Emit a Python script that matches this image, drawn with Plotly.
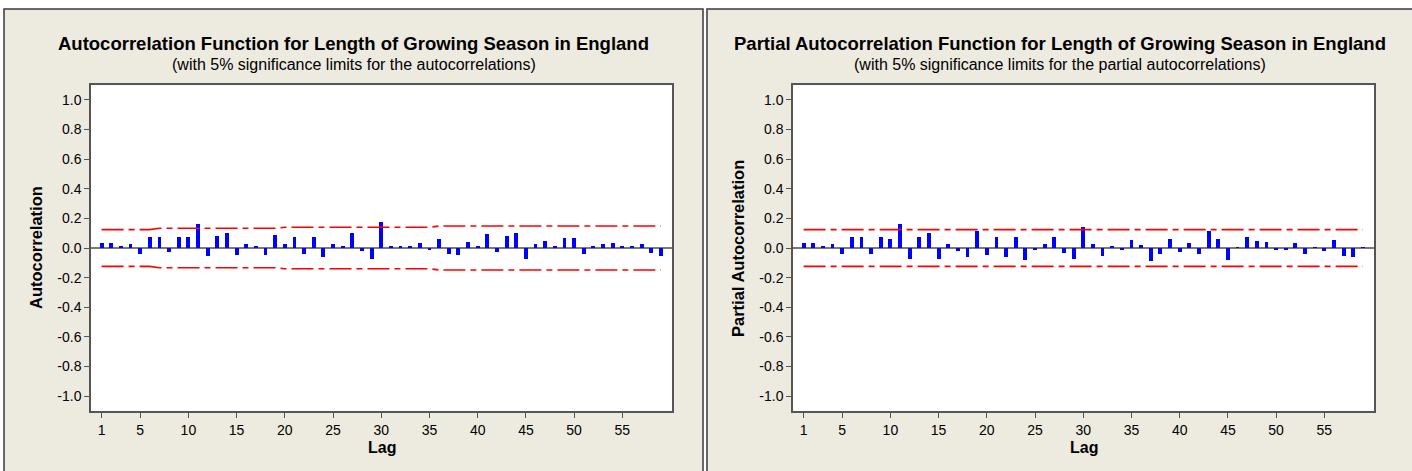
import plotly.graph_objects as go

W, H = 1412, 471

lags = list(range(1, 60))

acf = [0.034, 0.034, 0.011, 0.027, -0.039, 0.071, 0.071, -0.027, 0.071, 0.071,
       0.160, -0.055, 0.084, 0.098, -0.046, 0.027, 0.016, -0.046, 0.091, 0.027,
       0.075, -0.039, 0.075, -0.062, 0.027, 0.007, 0.100, -0.018, -0.071, 0.176,
       0.011, 0.007, 0.007, 0.034, -0.014, 0.059, -0.039, -0.048, 0.041, 0.011,
       0.094, -0.030, 0.084, 0.100, -0.072, 0.025, 0.050, 0.009, 0.068, 0.068,
       -0.041, 0.016, 0.025, 0.032, 0.009, 0.016, 0.025, -0.032, -0.052]

pacf = [0.034, 0.034, 0.011, 0.027, -0.041, 0.075, 0.071, -0.041, 0.071, 0.062,
        0.162, -0.071, 0.071, 0.103, -0.071, 0.027, -0.018, -0.062, 0.112, -0.048,
        0.075, -0.062, 0.071, -0.080, -0.014, 0.027, 0.071, -0.032, -0.071, 0.144,
        0.027, -0.055, 0.007, -0.014, 0.053, 0.018, -0.089, -0.039, 0.062, -0.030,
        0.034, -0.039, 0.116, 0.062, -0.080, 0.005, 0.071, 0.045, 0.043, -0.014,
        -0.014, 0.034, -0.039, 0.005, -0.018, 0.053, -0.055, -0.062, 0.005]

acf_limit = [0.124, 0.124, 0.124, 0.124, 0.124, 0.124, 0.133, 0.133, 0.133, 0.133,
             0.133, 0.133, 0.133, 0.133, 0.133, 0.133, 0.133, 0.133, 0.133, 0.140,
             0.140, 0.140, 0.140, 0.140, 0.140, 0.140, 0.140, 0.140, 0.140, 0.140,
             0.140, 0.140, 0.140, 0.140, 0.140, 0.148, 0.148, 0.148, 0.148, 0.148,
             0.148, 0.148, 0.148, 0.148, 0.148, 0.148, 0.148, 0.148, 0.148, 0.148,
             0.148, 0.148, 0.148, 0.148, 0.148, 0.148, 0.148, 0.148, 0.148]

pacf_limit = [0.124] * 59

x_tickvals = [1, 5, 10, 15, 20, 25, 30, 35, 40, 45, 50, 55]
y_tickvals = [1.0, 0.8, 0.6, 0.4, 0.2, 0.0, -0.2, -0.4, -0.6, -0.8, -1.0]
y_ticktext = ["1.0", "0.8", "0.6", "0.4", "0.2", "0.0", "-0.2", "-0.4", "-0.6", "-0.8", "-1.0"]

titles = ["Autocorrelation Function for Length of Growing Season in England",
          "Partial Autocorrelation Function for Length of Growing Season in England"]
subtitles = ["(with 5% significance limits for the autocorrelations)",
             "(with 5% significance limits for the partial autocorrelations)"]
ytitles = ["Autocorrelation", "Partial Autocorrelation"]

FONT = "Liberation Sans, Arial, sans-serif"
BEIGE = "#EDEAE0"
FRAME = "#555555"


def px(x):
    return x / W


def py(y):
    return 1 - y / H


fig = go.Figure()

plot_left = [91, 793]
plot_right = [672, 1374]
plot_top, plot_bottom = 85, 411
panel_x = [(4, 703), (707, 1413)]

series = [(acf, acf_limit), (pacf, pacf_limit)]

shapes = []
annotations = []
for i in range(2):
    xa = "x" if i == 0 else "x2"
    ya = "y" if i == 0 else "y2"
    vals, lim = series[i]
    fig.add_trace(go.Bar(x=lags, y=vals, width=0.4, marker=dict(color="#0000FF", line=dict(width=0)),
                         xaxis=xa, yaxis=ya, showlegend=False))
    fig.add_trace(go.Scatter(x=lags, y=lim, mode="lines",
                             line=dict(color="#FF0000", width=1.6, dash="22px,5px,6px,5px"),
                             xaxis=xa, yaxis=ya, showlegend=False))
    fig.add_trace(go.Scatter(x=lags, y=[-v for v in lim], mode="lines",
                             line=dict(color="#FF0000", width=1.6, dash="22px,5px,6px,5px"),
                             xaxis=xa, yaxis=ya, showlegend=False))

    x0, x1 = panel_x[i]
    shapes.append(dict(type="rect", xref="paper", yref="paper", layer="below",
                       x0=px(x0), x1=px(x1), y0=py(475), y1=py(9),
                       fillcolor=BEIGE, line=dict(color="#3A3A3A", width=1.5)))
    shapes.append(dict(type="rect", xref="paper", yref="paper", layer="below",
                       x0=px(plot_left[i]), x1=px(plot_right[i]), y0=py(plot_bottom), y1=py(plot_top),
                       fillcolor="white", line=dict(width=0)))

    cx = (x0 + x1) / 2
    annotations.append(dict(text="<b>" + titles[i] + "</b>", xref="paper", yref="paper",
                            x=px(cx), y=py(44), xanchor="center", yanchor="middle",
                            showarrow=False, font=dict(family=FONT, size=18.5, color="black")))
    annotations.append(dict(text=subtitles[i], xref="paper", yref="paper",
                            x=px(cx), y=py(65), xanchor="center", yanchor="middle",
                            showarrow=False, font=dict(family=FONT, size=16, color="black")))
    pcx = (plot_left[i] + plot_right[i]) / 2
    annotations.append(dict(text="<b>Lag</b>", xref="paper", yref="paper",
                            x=px(pcx), y=py(447), xanchor="center", yanchor="middle",
                            showarrow=False, font=dict(family=FONT, size=16, color="black")))
    annotations.append(dict(text="<b>" + ytitles[i] + "</b>", xref="paper", yref="paper",
                            x=px(plot_left[i] - 55), y=py(248), xanchor="center", yanchor="middle",
                            textangle=-90, showarrow=False,
                            font=dict(family=FONT, size=16.5, color="black")))

axis_common = dict(showgrid=False, showline=True, mirror=True, linecolor=FRAME, linewidth=1.5,
                   ticks="outside", ticklen=5, tickcolor=FRAME, tickwidth=1,
                   tickfont=dict(family=FONT, size=14, color="black"))

for i in range(2):
    xk = "xaxis" if i == 0 else "xaxis2"
    yk = "yaxis" if i == 0 else "yaxis2"
    fig.update_layout(**{
        xk: dict(domain=[px(plot_left[i]), px(plot_right[i])], range=[-0.1, 60.15],
                 tickvals=x_tickvals, anchor="y" if i == 0 else "y2", zeroline=False,
                 **axis_common),
        yk: dict(domain=[py(plot_bottom), py(plot_top)], range=[-1.1, 1.1],
                 tickvals=y_tickvals, ticktext=y_ticktext, anchor="x" if i == 0 else "x2",
                 zeroline=True, zerolinecolor="#7A7A7A", zerolinewidth=2, **axis_common),
    })

fig.update_layout(width=W, height=H, margin=dict(l=0, r=0, t=0, b=0),
                  paper_bgcolor="white", plot_bgcolor="rgba(0,0,0,0)",
                  shapes=shapes, annotations=annotations, bargap=0,
                  showlegend=False)

fig.write_html("out.html")
